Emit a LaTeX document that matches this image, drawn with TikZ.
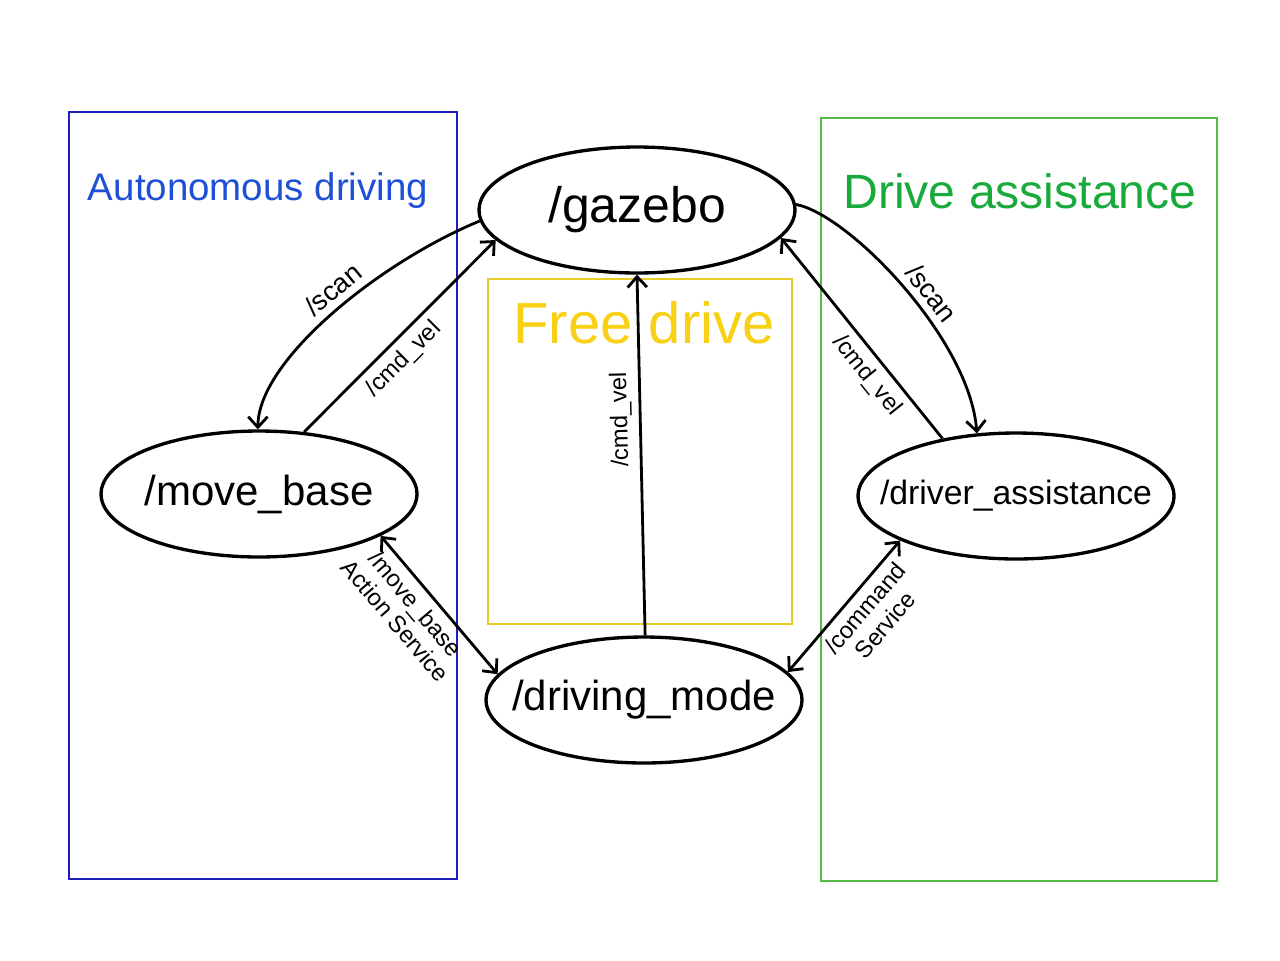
\documentclass[tikz,border=0pt]{standalone}
\usepackage{fontspec}
\setmainfont{Liberation Sans}
\usetikzlibrary{shapes.geometric,arrows.meta}
\definecolor{boxblue}{RGB}{30,30,185}
\definecolor{txtblue}{RGB}{30,80,215}
\definecolor{boxgreen}{RGB}{85,185,70}
\definecolor{txtgreen}{RGB}{25,170,60}
\definecolor{boxyellow}{RGB}{232,205,40}
\definecolor{txtyellow}{RGB}{248,208,20}
\newcommand\zwbox[1]{\makebox[0pt][c]{#1}}
\tikzset{
  rosnode/.style={draw=black, line width=1.9pt, ellipse, minimum width=6.32cm, minimum height=2.52cm, inner sep=0pt, fill=white},
  zone/.style={line width=0.7pt},
  topic/.style={line width=1.6pt, -{Straight Barb[length=6pt,width=11pt]}},
  biedge/.style={line width=1.6pt, {Straight Barb[length=6pt,width=11pt]}-{Straight Barb[length=6pt,width=11pt]}},
  lbl/.style={font=\fontsize{13.5}{15}\selectfont, sloped, inner sep=4pt},
  scanlbl/.style={font=\fontsize{15.5}{17}\selectfont, sloped, inner sep=4pt}
}
\begin{document}
\begin{tikzpicture}[x=0.02cm,y=-0.02cm]
\useasboundingbox (0,0) rectangle (1280,960);
\fill[white] (0,0) rectangle (1280,960);
% zones
\draw[zone, draw=boxblue] (69,112) rectangle (457,879);
\draw[zone, draw=boxgreen] (821,118) rectangle (1217,881);
\draw[zone, draw=boxyellow] (488,279) rectangle (792,624);
\node[text=txtblue, font=\fontsize{21.9}{24}\selectfont] (tauto) at (258,191) {Autonomous driving};
\node[text=txtgreen, font=\fontsize{27.4}{30}\selectfont] (tassist) at (1020,191) {Drive assistance};
\node[text=txtyellow, font=\fontsize{33}{36}\selectfont] (tfree) at (644,323) {Free drive};
% nodes
\node[rosnode, font=\fontsize{28.4}{30}\selectfont] (gz) at (637,210) {\zwbox{/gazebo}};
\node[rosnode, font=\fontsize{23.9}{26}\selectfont] (mb) at (259,494) {\zwbox{/move\_base}};
\node[rosnode, font=\fontsize{19.2}{21}\selectfont] (da) at (1016,496) {\zwbox{/driver\_assistance}};
\node[rosnode, font=\fontsize{23.9}{26}\selectfont] (dm) at (644,700) {\zwbox{/driving\_mode}};
% edges
\draw[topic] (gz.184) .. controls (380,262) and (258,360) .. node[scanlbl, above, pos=0.45] {/scan} (mb.91);
\draw[topic] (mb.54) -- node[lbl, below, pos=0.45] {/cmd\_vel} (gz.192);
\draw[topic] (dm.89) -- node[lbl, above, pos=0.6, allow upside down] {/cmd\_vel} (gz.south);
\draw[topic] (gz.2) .. controls (850,215) and (970,340) .. node[scanlbl, above, pos=0.56] {/scan} (da.122);
\draw[topic] (da.142) -- node[lbl, below, pos=0.375] {/cmd\_vel} (gz.349);
\draw[biedge] (mb.341) -- node[lbl, below, pos=0.41, align=center] {/move\_base\\Action Service} (dm.170);
\draw[biedge] (da.201) -- node[lbl, below, pos=0.43, align=center] {/command\\Service} (dm.11);
\end{tikzpicture}
\end{document}
